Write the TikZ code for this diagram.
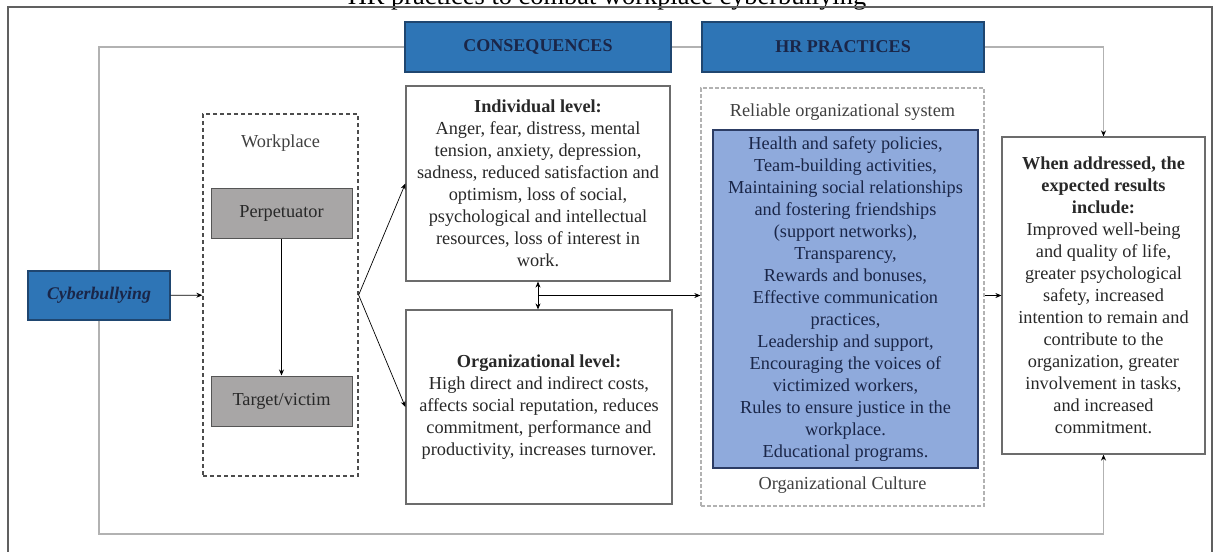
\documentclass[tikz,border=0pt]{standalone}
\usepackage{fontspec}
\setmainfont{Liberation Serif}
\usetikzlibrary{arrows.meta,calc,backgrounds}

\definecolor{hdrblue}{RGB}{46,117,182}
\definecolor{hdrline}{RGB}{31,70,112}
\definecolor{navy}{RGB}{26,38,72}
\definecolor{hrfill}{RGB}{143,170,220}
\definecolor{hrline}{RGB}{44,60,100}
\definecolor{rolefill}{RGB}{168,166,166}
\definecolor{roleline}{RGB}{85,85,85}
\definecolor{bodytext}{RGB}{40,40,40}

\newcommand{\txtsize}{\fontsize{18.3}{22}\selectfont}

\tikzset{
  header/.style={draw=hdrline, line width=1.2pt, fill=hdrblue, text=navy,
    font=\fontsize{18}{20}\selectfont\bfseries, minimum height=50pt, inner sep=0pt},
  role/.style={draw=roleline, line width=1pt, fill=rolefill, text=bodytext,
    minimum width=141pt, minimum height=50pt, font=\txtsize},
  level/.style={draw=gray!85!black, line width=1.2pt, fill=white, text=bodytext,
    align=center, inner sep=0pt, font=\txtsize},
  zone/.style={draw=black!70, dash pattern=on 4pt off 3pt, line width=1.3pt},
  softzone/.style={draw=gray!60, dash pattern=on 4pt off 2pt, line width=1.3pt},
  link/.style={->, line width=0.7pt},
  loopline/.style={-{Stealth[length=6pt,width=5pt,color=black]}, draw=gray!60, line width=1.3pt},
}

\begin{document}
\begin{tikzpicture}[x=1pt, y=-1pt, >={Stealth[length=6pt,width=5pt]}]
  \useasboundingbox (0,0) rectangle (1214,551);
  \node[anchor=base, font=\fontsize{26.4}{28}\selectfont] (title) at (607,5) {HR practices to combat workplace cyberbullying};
  \draw[gray!75!black, line width=1.5pt] (8,7) rectangle (1212,580);

  % left side: cyberbullying and the workplace
  \node[fill=hdrblue, draw=hdrline, line width=1.2pt, text=navy, minimum width=142pt, minimum height=49pt,
    font=\fontsize{17.8}{19}\selectfont\bfseries\itshape] (cyber) at (99,295.5) {Cyberbullying};
  \node[zone, minimum width=155pt, minimum height=362pt] (work) at (280.5,295) {};
  \node[text=black!75, font=\txtsize] (worklbl) at (280.5,143) {Workplace};
  \node[role] (perp) at (281.5,213.5) {Perpetuator};
  \node[role] (target) at (281.5,401) {Target/victim};

  % consequences
  \node[header, minimum width=266pt] (conseq) at (538,47) {CONSEQUENCES};
  \node[level, minimum width=264pt, minimum height=195pt] (indiv) at (538,183.5)
    {\textbf{Individual level:}\\Anger, fear, distress, mental\\tension, anxiety, depression,\\sadness, reduced satisfaction and\\optimism, loss of social,\\psychological and intellectual\\resources, loss of interest in\\work.};
  \node[level, minimum width=266pt, minimum height=194pt] (org) at (539,407)
    {\textbf{Organizational level:}\\High direct and indirect costs,\\affects social reputation, reduces\\commitment, performance and\\productivity, increases turnover.};

  % hr practices
  \node[header, minimum width=282pt] (hrprac) at (843,47) {HR PRACTICES};
  \node[softzone, minimum width=283pt, minimum height=418pt] (hrzone) at (842.5,297) {};
  \node[text=black!75, font=\txtsize] (reliable) at (842.5,112) {Reliable organizational system};
  \node[fill=hrfill, draw=hrline, line width=1.2pt, text=navy, align=center, inner sep=0pt,
    minimum width=265pt, minimum height=338pt, font=\txtsize] (hrbox) at (845.5,299)
    {Health and safety policies,\\Team-building activities,\\Maintaining social relationships\\and fostering friendships\\(support networks),\\Transparency,\\Rewards and bonuses,\\Effective communication\\practices,\\Leadership and support,\\Encouraging the voices of\\victimized workers,\\Rules to ensure justice in the\\workplace.\\Educational programs.};
  \node[text=black!75, font=\txtsize] (culture) at (842.5,485) {Organizational Culture};

  % expected results
  \node[level, minimum width=203pt, minimum height=317pt] (results) at (1103.5,295.5)
    {\textbf{When addressed, the}\\\textbf{expected results}\\\textbf{include:}\\Improved well-being\\and quality of life,\\greater psychological\\safety, increased\\intention to remain and\\contribute to the\\organization, greater\\involvement in tasks,\\and increased\\commitment.};

  \draw[link] (cyber) -- (work);
  \draw[link] (perp) -- (target);
  \draw[link] (work.east) -- (indiv.west);
  \draw[link] (work.east) -- (org.west);
  \draw[link,<->] (indiv.south) -- (indiv.south |- org.north);
  \coordinate (mid) at ($(indiv.south)!0.5!(indiv.south |- org.north)$);
  \draw[link] (mid) -- (mid -| hrzone.west);
  \draw[link] (hrzone.east |- results.west) -- (results.west);

  % feedback loop behind the boxes
  \begin{scope}[on background layer]
    \coordinate (top) at (0,47);
    \coordinate (bot) at (0,534);
    \draw[loopline] (cyber.north) -- (cyber.north |- top) -| (results.north);
    \draw[loopline] (cyber.south) -- (cyber.south |- bot) -| (results.south);
  \end{scope}
\end{tikzpicture}
\end{document}
